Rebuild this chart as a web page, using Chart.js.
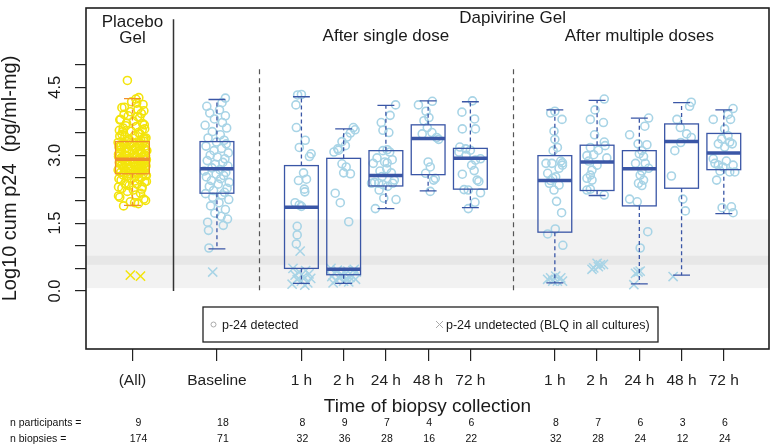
<!DOCTYPE html>
<html>
<head>
<meta charset="utf-8">
<script src="https://cdn.jsdelivr.net/npm/chart.js@4.4.1/dist/chart.umd.min.js"></script>
<style>
  html, body { margin: 0; padding: 0; background: #fff; }
  #wrap { width: 777px; height: 445px; }
</style>
</head>
<body>
<div id="wrap"><canvas id="boxChart" width="777" height="445"></canvas></div>
<script>
// categories on the x axis and their positions (gaps between groups)
const categories = ['(All)', 'Baseline', '1 h', '2 h', '24 h', '48 h', '72 h', '1 h', '2 h', '24 h', '48 h', '72 h'];
const catPos = [0, 2, 4, 5, 6, 7, 8, 10, 11, 12, 13, 14];
const nParticipants = [9, 18, 8, 9, 7, 4, 6, 8, 7, 6, 3, 6];
const nBiopsies = [174, 71, 32, 36, 28, 16, 22, 32, 28, 24, 12, 24];

// box statistics (log10 units)
const boxLow = [1.89, 0.93, 0.17, 0.17, 1.82, 2.21, 1.84, 0.18, 2.11, 0.16, 0.35, 1.71];
const boxQ1 = [2.59, 2.16, 0.50, 0.36, 2.32, 2.57, 2.25, 1.30, 2.22, 1.88, 2.27, 2.68];
const boxMedian = [2.91, 2.70, 1.85, 0.48, 2.55, 3.37, 2.93, 2.44, 2.85, 2.70, 3.30, 3.05];
const boxQ3 = [3.30, 3.30, 2.77, 2.93, 3.10, 3.67, 3.15, 2.99, 3.22, 3.10, 3.69, 3.48];
const boxHigh = [4.25, 4.23, 4.29, 3.58, 4.10, 4.20, 4.18, 4.00, 4.21, 3.82, 4.16, 4.00];

// y axis
const yTicks = [0, 0.5, 1, 1.5, 2, 2.5, 3, 3.5, 4, 4.5, 5];
const yLabels = [0, 1.5, 3, 4.5];
const lloqBand = [0.065, 1.58];
const lloqLine = [0.58, 0.78];

// individual biopsies: detected values + horizontal jitter
const placeboDet = [1.88, 1.93, 1.97, 2.03, 2.07, 2.12, 2.16, 2.2, 2.23, 2.27, 2.3, 2.33, 2.36, 2.38, 2.41, 2.43, 2.45, 2.47, 2.49, 2.51, 2.53, 2.55, 2.56, 2.58, 2.59,
  2.6, 2.62, 2.63, 2.65, 2.66, 2.68, 2.7, 2.71, 2.72, 2.74, 2.75, 2.77, 2.78, 2.79, 2.8, 2.82, 2.83, 2.84, 2.85, 2.86, 2.87, 2.88, 2.89, 2.9, 2.91,
  2.92, 2.94, 2.95, 2.97, 2.98, 3.0, 3.01, 3.03, 3.04, 3.06, 3.08, 3.09, 3.11, 3.12, 3.14, 3.16, 3.17, 3.19, 3.21, 3.22, 3.24, 3.26, 3.27, 3.29, 3.3,
  3.32, 3.35, 3.37, 3.4, 3.43, 3.46, 3.5, 3.53, 3.56, 3.6, 3.63, 3.67, 3.71, 3.75, 3.79, 3.83, 3.87, 3.92, 3.96, 4.01, 4.06, 4.12, 4.18, 4.24, 4.65,
  2.0, 2.1, 2.25, 2.35, 2.42, 2.48, 2.52, 2.57, 2.61, 2.64, 2.67, 2.69, 2.73, 2.76, 2.79, 2.81, 2.84, 2.86, 2.88, 2.9,
  2.93, 2.96, 2.99, 3.02, 3.05, 3.07, 3.1, 3.13, 3.15, 3.18, 3.2, 3.23, 3.25, 3.28, 3.31, 3.34, 3.38, 3.42, 3.47, 3.52,
  3.58, 3.65, 3.7, 3.78, 3.85, 3.9, 3.98, 4.05, 4.15, 4.27, 2.3, 2.55, 2.7, 2.83, 2.97, 3.11, 3.2, 3.36, 3.55, 1.95];
const placeboJit = [-0.21, 0.14, -0.05, 0.27, -0.3, 0.08, 0.19, -0.12, 0.02, -0.25, 0.23, -0.08, 0.11, -0.18, 0.29, 0.05, -0.27, 0.16, -0.02, 0.21, -0.14, 0.07, -0.22, 0.25, -0.1,
  0.12, -0.28, 0.03, 0.24, -0.16, 0.18, -0.06, 0.3, -0.2, 0.09, -0.03, 0.22, -0.26, 0.15, -0.11, 0.01, 0.28, -0.17, 0.06, -0.29, 0.2, -0.07, 0.13, -0.23, 0.26,
  -0.04, 0.17, -0.24, 0.1, -0.13, 0.27, -0.19, 0.04, 0.22, -0.3, 0.12, -0.09, 0.19, -0.01, 0.29, -0.15, 0.07, -0.27, 0.16, -0.06, 0.24, -0.2, 0.0, 0.11, -0.12,
  0.2, -0.08, 0.26, -0.18, 0.05, -0.25, 0.14, -0.03, 0.23, -0.22, 0.09, 0.28, -0.14, 0.02, -0.28, 0.17, -0.1, 0.21, -0.05, 0.13, -0.19, 0.25, -0.02, 0.08, -0.12,
  0.31, -0.33, 0.22, -0.15, 0.33, -0.32, 0.06, 0.31, -0.2, 0.16, -0.34, 0.25, -0.1, 0.32, -0.24, 0.04, -0.31, 0.19, -0.17, 0.33,
  -0.28, 0.11, 0.31, -0.33, 0.2, -0.14, 0.34, -0.26, 0.08, -0.32, 0.3, -0.21, 0.15, -0.34, 0.27, -0.09, 0.32, -0.3, 0.18, -0.23,
  0.29, -0.16, 0.24, -0.3, 0.12, -0.2, 0.27, -0.25, 0.1, 0.15, -0.33, 0.33, -0.32, 0.31, -0.33, 0.32, -0.3, 0.3, -0.31, 0.05];
const placeboBlq = [0.35, 0.33];
const placeboBlqJit = [-0.05, 0.19];

const baselineDet = [0.95, 1.34, 1.45, 1.52, 1.59, 1.65, 1.72, 1.8, 1.88, 1.95, 2.02, 2.07, 2.12, 2.15,
  2.18, 2.22, 2.27, 2.31, 2.36, 2.4, 2.44, 2.48, 2.52, 2.55, 2.58, 2.62, 2.65, 2.68,
  2.72, 2.76, 2.8, 2.84, 2.88, 2.92, 2.96, 3.0, 3.05, 3.1, 3.15, 3.2, 3.25, 3.29,
  3.33, 3.38, 3.45, 3.52, 3.6, 3.66, 3.72, 3.8, 3.87, 3.93, 4.0, 4.08, 4.16, 4.26];
const baselineJit = [-0.19, -0.2, 0.15, -0.22, 0.25, 0.1, -0.05, 0.2, -0.15, 0.05, 0.28, -0.1, 0.12, -0.27,
  0.18, -0.08, 0.24, -0.18, 0.03, 0.29, -0.13, 0.09, -0.25, 0.16, -0.02, 0.21, -0.3, 0.07,
  -0.12, 0.26, -0.04, 0.14, -0.23, 0.19, 0.01, -0.16, 0.27, -0.07, 0.11, -0.26, 0.22, -0.01,
  0.17, -0.21, 0.08, -0.11, 0.23, -0.28, 0.13, -0.06, 0.2, -0.17, 0.06, -0.24, 0.12, 0.2];
const baselineBlq = [0.42];
const baselineBlqJit = [-0.1];

const single1hDet = [4.33, 4.34, 4.11, 3.61, 3.33, 3.17, 3.03, 2.97, 2.61, 2.44, 2.47, 2.25, 2.19, 1.95, 1.9, 1.87, 1.43, 1.24, 1.04];
const single1hJit = [-0.09, 0.0, -0.13, -0.12, 0.09, -0.05, 0.23, 0.19, 0.05, -0.07, 0.12, 0.07, 0.08, -0.15, -0.05, 0.0, -0.1, -0.1, -0.12];
const single1hBlq = [0.88, 0.5, 0.45, 0.42, 0.38, 0.35, 0.32, 0.28, 0.25, 0.22, 0.18, 0.15, 0.13];
const single1hBlqJit = [-0.03, -0.2, 0.1, -0.05, 0.18, -0.15, 0.05, 0.22, -0.1, 0.0, 0.15, -0.22, 0.08];

const single2hDet = [3.61, 3.56, 3.49, 3.4, 3.3, 3.21, 3.14, 3.11, 3.07, 2.81, 2.74, 2.61, 2.59, 2.16, 1.95, 1.53];
const single2hJit = [0.23, 0.27, 0.16, 0.08, -0.04, 0.04, -0.14, -0.12, -0.23, -0.04, 0.06, 0.0, 0.16, -0.2, -0.08, 0.12];
const single2hBlq = [0.5, 0.48, 0.46, 0.44, 0.42, 0.4, 0.38, 0.36, 0.34, 0.32, 0.3, 0.28, 0.26, 0.24, 0.22, 0.2, 0.18, 0.45, 0.35, 0.27];
const single2hBlqJit = [-0.3, 0.25, -0.15, 0.1, 0.3, -0.22, 0.05, -0.05, 0.2, -0.28, 0.15, -0.1, 0.28, -0.18, 0.0, 0.12, -0.25, 0.22, -0.08, 0.08];

const single24hDet = [4.11, 3.88, 3.72, 3.55, 3.5, 3.12, 3.07, 2.94, 2.85, 2.83, 2.65, 2.61, 2.4, 2.38, 2.35, 2.38, 2.31, 2.02, 1.82, 2.05, 2.23, 2.38, 2.45, 3.1, 2.7, 2.82, 2.9, 2.53];
const single24hJit = [0.23, 0.1, -0.11, -0.07, 0.07, 0.03, 0.09, -0.21, -0.03, 0.03, -0.14, 0.13, -0.27, -0.17, -0.07, 0.16, 0.04, 0.24, -0.25, -0.05, -0.16, -0.34, 0.2, -0.07, 0.02, -0.3, 0.15, -0.09];

const single48hDet = [4.11, 4.19, 3.97, 3.76, 3.61, 3.47, 3.5, 3.35, 2.85, 2.74, 2.49, 2.45, 2.2, 3.83, 3.39, 2.6];
const single48hJit = [-0.23, 0.1, -0.05, -0.1, -0.02, -0.14, 0.09, 0.25, 0.0, 0.05, 0.17, 0.13, 0.05, 0.02, 0.2, -0.06];

const single72hDet = [3.95, 4.2, 3.8, 3.58, 3.58, 3.18, 3.14, 3.11, 2.92, 2.89, 2.78, 2.58, 2.45, 2.42, 2.24, 2.23, 2.17, 1.96, 1.82, 3.07, 3.0, 2.66];
const single72hJit = [-0.2, 0.05, 0.1, -0.19, 0.12, -0.25, -0.11, 0.0, 0.24, 0.12, 0.03, -0.19, 0.16, 0.2, -0.15, -0.05, 0.24, 0.11, -0.05, -0.27, -0.1, 0.09];

const multi1hDet = [3.93, 3.97, 3.79, 3.53, 3.35, 3.17, 3.1, 2.82, 2.82, 2.87, 2.83, 2.71, 2.6, 2.52, 2.44, 2.34, 2.23, 1.98, 1.73, 1.37, 1.26, 1.01, 2.78, 2.38, 2.49];
const multi1hJit = [-0.1, 0.0, 0.17, -0.02, 0.0, 0.06, -0.04, -0.21, -0.07, 0.14, 0.18, 0.1, -0.17, 0.02, -0.1, 0.1, -0.02, 0.04, 0.16, 0.01, -0.17, 0.19, 0.18, -0.13, -0.05];
const multi1hBlq = [0.29, 0.33, 0.29, 0.22, 0.22, 0.22, 0.26];
const multi1hBlqJit = [-0.1, 0.02, 0.14, 0.18, -0.05, 0.06, -0.17];

const multi2hDet = [4.24, 4.0, 3.79, 3.72, 3.45, 3.29, 3.21, 3.17, 3.11, 2.99, 3.01, 2.94, 2.87, 2.67, 2.56, 2.49, 2.45, 2.25, 2.23, 2.12, 2.78];
const multi2hJit = [0.17, -0.05, -0.16, 0.15, -0.06, 0.17, 0.19, -0.16, 0.03, -0.24, -0.08, 0.23, -0.2, -0.12, -0.16, -0.24, -0.12, -0.16, -0.24, 0.17, 0.0];
const multi2hBlq = [0.51, 0.61, 0.58, 0.59, 0.48, 0.54];
const multi2hBlqJit = [-0.08, 0.0, 0.08, 0.15, -0.12, 0.03];

const multi24hDet = [3.82, 3.64, 3.45, 3.25, 3.23, 3.1, 3.03, 2.97, 2.82, 2.71, 2.65, 2.56, 2.45, 2.38, 2.33, 2.03, 1.97, 1.31, 0.95, 2.82];
const multi24hJit = [0.22, 0.13, -0.23, -0.03, 0.18, 0.06, 0.0, 0.1, 0.14, 0.22, 0.06, 0.02, 0.1, -0.02, 0.06, -0.23, -0.05, 0.2, 0.02, -0.09];
const multi24hBlq = [0.44, 0.39, 0.14, 0.42];
const multi24hBlqJit = [0.02, -0.09, -0.13, -0.03];

const multi48hDet = [4.17, 4.08, 3.79, 3.61, 3.47, 3.39, 3.1, 2.54, 2.03, 1.77, 3.28];
const multi48hJit = [0.23, 0.19, -0.11, -0.03, 0.12, 0.23, -0.16, -0.24, 0.03, 0.09, -0.02];
const multi48hBlq = [0.32];
const multi48hBlqJit = [-0.2];

const multi72hDet = [4.03, 3.9, 3.79, 3.79, 3.58, 3.43, 3.29, 3.25, 3.25, 3.18, 2.92, 2.78, 2.74, 2.63, 2.63, 2.45, 1.84, 1.86, 1.73, 2.82, 2.87, 2.65, 2.78, 3.36];
const multi72hJit = [0.22, 0.1, 0.16, -0.25, 0.02, 0.1, 0.14, -0.13, 0.2, 0.02, -0.25, -0.13, -0.02, 0.14, 0.26, -0.17, -0.04, 0.18, 0.22, -0.21, 0.06, -0.09, 0.22, -0.05];

const detected = [
  [placeboDet, placeboJit], [baselineDet, baselineJit], [single1hDet, single1hJit], [single2hDet, single2hJit],
  [single24hDet, single24hJit], [single48hDet, single48hJit], [single72hDet, single72hJit],
  [multi1hDet, multi1hJit], [multi2hDet, multi2hJit], [multi24hDet, multi24hJit], [multi48hDet, multi48hJit], [multi72hDet, multi72hJit]
];
const undetected = [
  [placeboBlq, placeboBlqJit], [baselineBlq, baselineBlqJit], [single1hBlq, single1hBlqJit], [single2hBlq, single2hBlqJit],
  [[], []], [[], []], [[], []],
  [multi1hBlq, multi1hBlqJit], [multi2hBlq, multi2hBlqJit], [multi24hBlq, multi24hBlqJit], [multi48hBlq, multi48hBlqJit], [[], []]
];

const BLUE = '#3a56a6';
const LIGHT = '#a8d4e6';
const ORANGE = '#f0902c';
const YELLOW = '#f3e40c';
const FONT = '"Liberation Sans", Arial, sans-serif';

function toPoints(list, idxFilter){
  const out = [];
  list.forEach((pair, i) => {
    if(!idxFilter(i)) return;
    const vals = pair[0], jit = pair[1];
    vals.forEach((v, k) => out.push({ x: catPos[i] + (jit[k] || 0), y: v }));
  });
  return out;
}

const isPlacebo = i => i === 0;
const isActive = i => i !== 0;

// bands, separators, boxes, frame and annotation text
const decor = {
  id: 'decor',
  beforeDatasetsDraw(chart){
    const { ctx, chartArea: a, scales: { x, y } } = chart;
    ctx.save();
    ctx.fillStyle = '#f2f2f2';
    ctx.fillRect(a.left, y.getPixelForValue(lloqBand[1]), a.right - a.left, y.getPixelForValue(lloqBand[0]) - y.getPixelForValue(lloqBand[1]));
    ctx.fillStyle = '#e7e7e7';
    ctx.fillRect(a.left, y.getPixelForValue(lloqLine[1]), a.right - a.left, y.getPixelForValue(lloqLine[0]) - y.getPixelForValue(lloqLine[1]));
    // group separators
    ctx.strokeStyle = '#333';
    ctx.lineWidth = 1.5;
    ctx.beginPath();
    const sx = Math.round(x.getPixelForValue(0.97)) + 0.5;
    ctx.moveTo(sx, y.getPixelForValue(6.0));
    ctx.lineTo(sx, y.getPixelForValue(0));
    ctx.stroke();
    ctx.setLineDash([5, 4]);
    ctx.lineWidth = 1.2;
    ctx.strokeStyle = '#555';
    [3, 9].forEach(p => {
      const px = Math.round(x.getPixelForValue(p)) + 0.5;
      ctx.beginPath();
      ctx.moveTo(px, y.getPixelForValue(4.9));
      ctx.lineTo(px, y.getPixelForValue(0));
      ctx.stroke();
    });
    ctx.restore();
  },
  afterDatasetsDraw(chart){
    const { ctx, chartArea: a, scales: { x, y } } = chart;
    ctx.save();
    categories.forEach((c, i) => {
      const col = i === 0 ? ORANGE : BLUE;
      const cx = x.getPixelForValue(catPos[i]);
      const half = x.getPixelForValue(catPos[i] + 0.4) - cx;
      const cap = half / 2;
      const yl = y.getPixelForValue(boxLow[i]), y1 = y.getPixelForValue(boxQ1[i]);
      const ym = y.getPixelForValue(boxMedian[i]), y3 = y.getPixelForValue(boxQ3[i]);
      const yh = y.getPixelForValue(boxHigh[i]);
      ctx.strokeStyle = col;
      ctx.lineWidth = 1.3;
      ctx.setLineDash([4, 3]);
      ctx.beginPath();
      ctx.moveTo(cx, y3); ctx.lineTo(cx, yh);
      ctx.moveTo(cx, y1); ctx.lineTo(cx, yl);
      ctx.stroke();
      ctx.setLineDash([]);
      ctx.beginPath();
      ctx.moveTo(cx - cap, yh); ctx.lineTo(cx + cap, yh);
      ctx.moveTo(cx - cap, yl); ctx.lineTo(cx + cap, yl);
      ctx.stroke();
      ctx.strokeRect(cx - half, y3, half * 2, y1 - y3);
      ctx.lineWidth = 3.5;
      ctx.beginPath();
      ctx.moveTo(cx - half, ym); ctx.lineTo(cx + half, ym);
      ctx.stroke();
    });
    // frame
    ctx.strokeStyle = '#1e1e1e';
    ctx.lineWidth = 1.6;
    ctx.strokeRect(a.left, a.top, a.right - a.left, a.bottom - a.top);
    ctx.restore();
  },
  afterDraw(chart){
    const { ctx, chartArea: a, scales: { x, y } } = chart;
    ctx.save();
    ctx.fillStyle = '#1a1a1a';
    ctx.textAlign = 'center';
    ctx.textBaseline = 'alphabetic';
    // y tick labels (rotated)
    ctx.font = '16.5px ' + FONT;
    yLabels.forEach(v => {
      ctx.save();
      ctx.translate(60, y.getPixelForValue(v));
      ctx.rotate(-Math.PI / 2);
      ctx.fillText(v.toFixed(1), 0, 0);
      ctx.restore();
    });
    // y title
    ctx.font = '20px ' + FONT;
    ctx.save();
    ctx.translate(15.5, (a.top + a.bottom) / 2);
    ctx.rotate(-Math.PI / 2);
    ctx.fillText('Log10 cum p24  (pg/ml-mg)', 0, 0);
    ctx.restore();
    // x title
    ctx.font = '19px ' + FONT;
    ctx.fillText('Time of biopsy collection', (a.left + a.right) / 2, 411.5);
    // group headers
    ctx.font = '17px ' + FONT;
    ctx.fillText('Placebo', x.getPixelForValue(0), 26.5);
    ctx.fillText('Gel', x.getPixelForValue(0), 43);
    ctx.fillText('Dapivirine Gel', x.getPixelForValue(9), 23);
    ctx.fillText('After single dose', x.getPixelForValue(6), 41);
    ctx.fillText('After multiple doses', x.getPixelForValue(12), 41);
    // legend
    ctx.fillStyle = '#fff';
    ctx.fillRect(203, 307, 455, 35);
    ctx.strokeStyle = '#222';
    ctx.lineWidth = 1.3;
    ctx.strokeRect(203, 307, 455, 35);
    ctx.strokeStyle = '#aaa';
    ctx.lineWidth = 1;
    ctx.beginPath();
    ctx.arc(213.5, 324.5, 2.5, 0, Math.PI * 2);
    ctx.stroke();
    ctx.beginPath();
    ctx.moveTo(436, 321); ctx.lineTo(443, 328);
    ctx.moveTo(443, 321); ctx.lineTo(436, 328);
    ctx.stroke();
    ctx.fillStyle = '#1a1a1a';
    ctx.textAlign = 'left';
    ctx.font = '12.5px ' + FONT;
    ctx.fillText('p-24 detected', 222, 329);
    ctx.fillText('p-24 undetected (BLQ in all cultures)', 446, 329);
    // counts under the axis
    ctx.font = '10.5px ' + FONT;
    ctx.fillStyle = '#111';
    ctx.fillText('n participants =', 10, 426);
    ctx.fillText('n biopsies =', 10, 442);
    ctx.textAlign = 'center';
    categories.forEach((c, i) => {
      const px = x.getPixelForValue(catPos[i]) + (i < 2 ? 6 : 1);
      ctx.fillText(String(nParticipants[i]), px, 426);
      ctx.fillText(String(nBiopsies[i]), px, 442);
    });
    ctx.restore();
  }
};

new Chart(document.getElementById('boxChart').getContext('2d'), {
  type: 'scatter',
  data: {
    datasets: [
      { label: 'placebo detected', data: toPoints(detected, isPlacebo), pointStyle: 'circle', pointRadius: 4, borderWidth: 1.6, borderColor: YELLOW, backgroundColor: 'rgba(0,0,0,0)' },
      { label: 'placebo BLQ', data: toPoints(undetected, isPlacebo), pointStyle: 'crossRot', pointRadius: 6.5, borderWidth: 1.5, borderColor: YELLOW, backgroundColor: YELLOW },
      { label: 'p-24 detected', data: toPoints(detected, isActive), pointStyle: 'circle', pointRadius: 4, borderWidth: 1.6, borderColor: LIGHT, backgroundColor: 'rgba(0,0,0,0)' },
      { label: 'p-24 undetected', data: toPoints(undetected, isActive), pointStyle: 'crossRot', pointRadius: 6.5, borderWidth: 1.5, borderColor: LIGHT, backgroundColor: LIGHT }
    ]
  },
  options: {
    responsive: false,
    animation: false,
    devicePixelRatio: 1,
    layout: { padding: { top: 1, right: 2, left: 0, bottom: 0 } },
    plugins: { legend: { display: false }, tooltip: { enabled: false } },
    scales: {
      x: {
        type: 'linear', min: -1.1, max: 15.07,
        afterBuildTicks: s => { s.ticks = catPos.map(v => ({ value: v })); },
        afterFit: s => { s.height = 96; },
        border: { display: false },
        grid: { drawOnChartArea: false, drawTicks: true, tickLength: 12, color: '#222', lineWidth: 1.2 },
        ticks: {
          autoSkip: false, maxRotation: 0, minRotation: 0, padding: 10, color: '#222',
          font: { family: FONT, size: 15.5 },
          callback: v => { const k = catPos.indexOf(v); return k < 0 ? '' : categories[k]; }
        }
      },
      y: {
        type: 'linear', min: -1.28, max: 6.25,
        afterBuildTicks: s => { s.ticks = yTicks.map(v => ({ value: v })); },
        afterFit: s => { s.width = 86; },
        border: { display: false },
        grid: { drawOnChartArea: false, drawTicks: true, tickLength: 11, color: '#222', lineWidth: 1.2 },
        ticks: { padding: 0, callback: () => '' }
      }
    }
  },
  plugins: [decor]
});
</script>
</body>
</html>
